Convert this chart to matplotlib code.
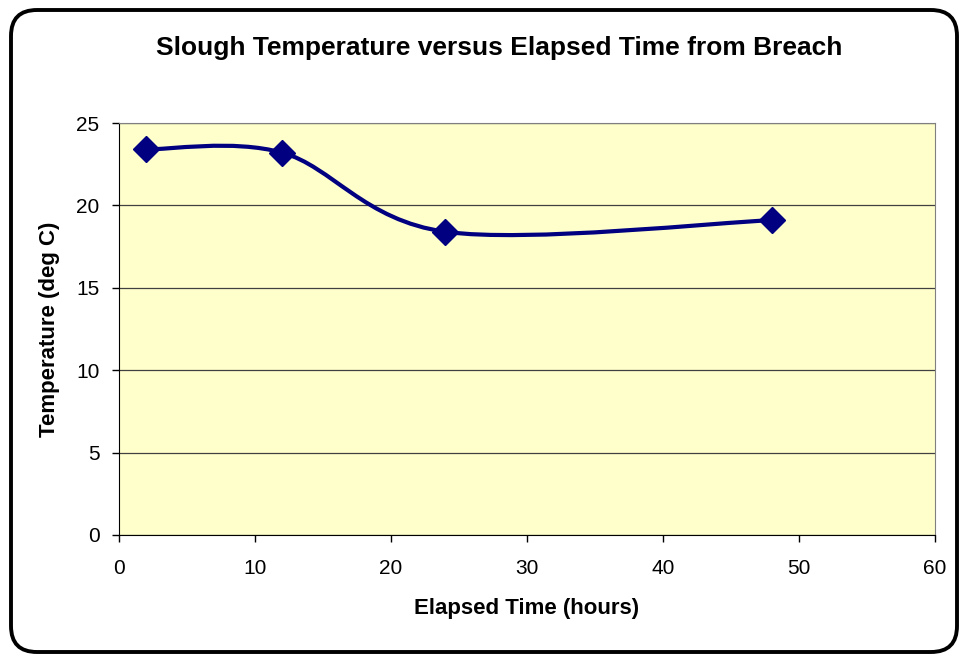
import matplotlib
matplotlib.use('Agg')
import matplotlib.pyplot as plt
from matplotlib.patches import FancyBboxPatch, PathPatch
from matplotlib.path import Path

# data
hours = [2, 12, 24, 48]
temps = [23.4, 23.2, 18.4, 19.1]
x_ticks = [0, 10, 20, 30, 40, 50, 60]
y_ticks = [0, 5, 10, 15, 20, 25]

plt.rcParams['font.family'] = ['Liberation Sans', 'DejaVu Sans']

fig = plt.figure(figsize=(9.61, 6.54), dpi=100)
ax = fig.add_axes([119 / 961, 1 - 535 / 654, 816 / 961, 412 / 654])

# rounded chart frame like Excel
frame = FancyBboxPatch((11 / 961, 1 - 652 / 654), 946 / 961, 642 / 654,
                       boxstyle="round,pad=0,rounding_size=0.027",
                       transform=fig.transFigure, facecolor='white',
                       edgecolor='black', linewidth=2.8, zorder=-10,
                       mutation_aspect=961 / 654)
fig.patches.append(frame)

ax.set_facecolor('#FFFFCC')

# smoothed line (Excel style Catmull-Rom bezier through the points)
pts = list(zip(hours, temps))
verts = [pts[0]]
codes = [Path.MOVETO]
for i in range(len(pts) - 1):
    p0 = pts[i - 1] if i > 0 else pts[i]
    p1 = pts[i]
    p2 = pts[i + 1]
    p3 = pts[i + 2] if i + 2 < len(pts) else pts[i + 1]
    c1 = (p1[0] + (p2[0] - p0[0]) / 6, p1[1] + (p2[1] - p0[1]) / 6)
    c2 = (p2[0] - (p3[0] - p1[0]) / 6, p2[1] - (p3[1] - p1[1]) / 6)
    verts += [c1, c2, p2]
    codes += [Path.CURVE4] * 3
ax.add_patch(PathPatch(Path(verts, codes), facecolor='none',
                       edgecolor='#000080', linewidth=3, zorder=3))
ax.plot(hours, temps, linestyle='none', marker='D', markersize=13,
        color='#000080', zorder=4)

ax.set_xlim(0, 60)
ax.set_ylim(0, 25)
ax.set_xticks(x_ticks)
ax.set_yticks(y_ticks)
ax.yaxis.grid(True, color='#404040', linewidth=0.9)
ax.set_axisbelow(True)
for s in ['top', 'right']:
    ax.spines[s].set_color('#808080')
for s in ['left', 'bottom']:
    ax.spines[s].set_color('black')
ax.tick_params(direction='out', length=5, width=1, labelsize=15)
ax.tick_params(axis='x', pad=12)
ax.tick_params(axis='y', pad=9)

ax.set_xlabel('Elapsed Time (hours)', fontsize=16, fontweight='bold', labelpad=15)
ax.set_ylabel('Temperature (deg C)', fontsize=16, fontweight='bold', labelpad=12)
fig.text(499 / 961, 1 - 48 / 654,
         'Slough Temperature versus Elapsed Time from Breach',
         ha='center', va='center', fontsize=19, fontweight='bold')

fig.savefig('out.png', dpi=100)
